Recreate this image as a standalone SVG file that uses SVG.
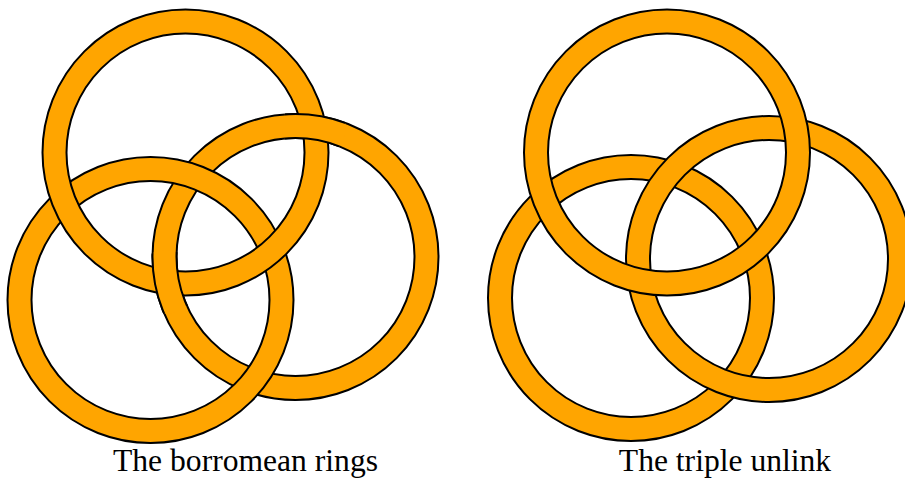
<svg xmlns="http://www.w3.org/2000/svg" width="905" height="478" viewBox="0 0 905 478">
<style>
.ring{fill:#FFA500;fill-rule:evenodd;stroke:#000;stroke-width:2}
.lbl{font-family:"Liberation Serif","Times New Roman",serif;font-size:31.6px;fill:#000;text-anchor:middle}
</style>
<defs>
  <path id="ring" class="ring" d="M143,0 A143,143 0 1 0 -143,0 A143,143 0 1 0 143,0 Z M119,0 A119,119 0 1 0 -119,0 A119,119 0 1 0 119,0 Z"/>
  <clipPath id="overAC" clipPathUnits="userSpaceOnUse">
    <circle cx="166" cy="282" r="32"/>
    <circle cx="314" cy="127" r="32"/>
  </clipPath>
</defs>
<rect width="905" height="478" fill="#fff"/>
<g id="borromean">
  <g id="ringC"><use href="#ring" transform="translate(295.5 257)"/></g>
  <g id="ringB"><use href="#ring" transform="translate(150.5 300)"/></g>
  <g id="ringA"><use href="#ring" transform="translate(185.5 152.5)"/></g>
  <g id="ringC-over" clip-path="url(#overAC)"><use href="#ring" transform="translate(295.5 257)"/></g>
  <text id="label-borromean" class="lbl" x="245.5" y="471">The borromean rings</text>
</g>
<g id="unlink">
  <g id="ringB2"><use href="#ring" transform="translate(631 298)"/></g>
  <g id="ringC2"><use href="#ring" transform="translate(769 259)"/></g>
  <g id="ringA2"><use href="#ring" transform="translate(667 152.5)"/></g>
  <text id="label-unlink" class="lbl" x="725" y="471">The triple unlink</text>
</g>
</svg>
